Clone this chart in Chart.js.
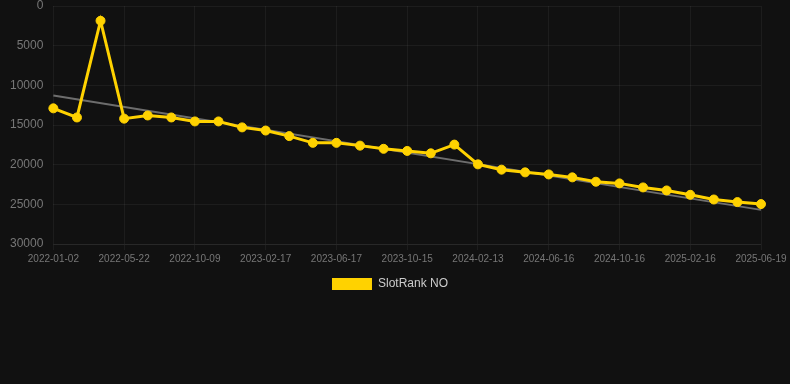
<!DOCTYPE html>
<html>
<head>
<meta charset="utf-8">
<script src="https://cdn.jsdelivr.net/npm/chart.js@4"></script>
<style>
html,body{margin:0;padding:0;background:#111111;}
#wrap{position:relative;width:790px;height:300px;}
</style>
</head>
<body>
<div id="wrap"><canvas id="c"></canvas></div>
<script>
const categories = [
  "2022-01-02","2022-02-18","2022-04-06","2022-05-22","2022-07-08","2022-08-24",
  "2022-10-09","2022-11-22","2023-01-04","2023-02-17","2023-03-29","2023-05-08",
  "2023-06-17","2023-07-27","2023-09-05","2023-10-15","2023-11-24","2024-01-03",
  "2024-02-13","2024-03-24","2024-05-05","2024-06-16","2024-07-27","2024-09-06",
  "2024-10-16","2024-11-26","2025-01-06","2025-02-16","2025-03-29","2025-05-09",
  "2025-06-19"
];
const rankValues = [
  12900,14050,1860,14200,13800,14050,14550,14550,15300,15700,16400,17250,
  17250,17600,18000,18270,18570,17470,19960,20630,20970,21230,21600,22150,
  22360,22870,23250,23800,24390,24720,24970
];
const trendStart = 11270;
const trendEnd = 25700;
const seriesName = "SlotRank NO";

const trendData = [
  {x: categories[0], y: trendStart},
  {x: categories[categories.length-1], y: trendEnd}
];

new Chart(document.getElementById('c'), {
  type: 'line',
  data: {
    labels: categories,
    datasets: [
      {
        label: seriesName,
        data: rankValues,
        borderColor: '#FFD200',
        backgroundColor: '#FFD200',
        borderWidth: 3,
        pointRadius: 4.5,
        pointBorderWidth: 1,
        pointBackgroundColor: '#FFD200',
        pointBorderColor: '#FFD200',
        tension: 0,
        order: 0
      },
      {
        label: 'trend',
        data: trendData,
        borderColor: 'rgba(140,140,140,0.75)',
        borderWidth: 2,
        pointRadius: 0,
        fill: false,
        order: 1
      }
    ]
  },
  options: {
    responsive: true,
    maintainAspectRatio: false,
    animation: false,
    layout: {padding: {top: 6, right: 10, left: 0, bottom: 0}},
    scales: {
      x: {
        afterFit: function(s) { s.paddingRight = 29; s.paddingLeft = 0; },
        ticks: {
          autoSkip: false,
          maxRotation: 0,
          color: '#777777',
          font: {family: 'Liberation Sans, Arial, sans-serif', size: 10},
          callback: function(v, i) { return i % 3 === 0 ? categories[i] : null; }
        },
        grid: {color: 'rgba(255,255,255,0.05)', drawTicks: true, tickLength: 6},
        border: {color: 'rgba(255,255,255,0.05)'}
      },
      y: {
        reverse: true,
        min: 0,
        max: 30000,
        afterFit: function(s) { s.paddingTop = 0; s.paddingBottom = 0; },
        ticks: {
          stepSize: 5000,
          color: '#777777',
          padding: 10,
          font: {family: 'Liberation Sans, Arial, sans-serif', size: 12},
          callback: function(v) { return String(v); }
        },
        grid: {color: 'rgba(255,255,255,0.05)', drawTicks: false},
        border: {display: false}
      }
    },
    plugins: {
      legend: {
        position: 'bottom',
        labels: {
          color: '#cccccc',
          boxWidth: 40,
          boxHeight: 12,
          font: {family: 'Liberation Sans, Arial, sans-serif', size: 12},
          filter: function(item) { item.lineWidth = 0; return item.text === seriesName; }
        }
      },
      tooltip: {enabled: false}
    }
  }
});
</script>
</body>
</html>
